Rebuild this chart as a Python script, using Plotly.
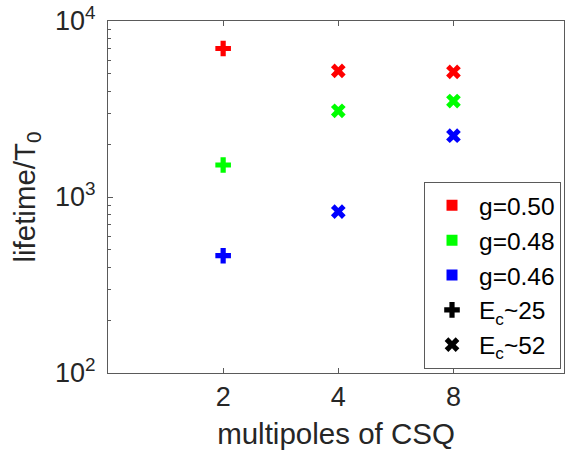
import plotly.graph_objects as go

# Multipole orders of the CSQ (categorical x axis)
multipoles = ["2", "4", "8"]

# Lifetime / T0 for E_c ~ 25 (only the 2-pole case)
ec25_multipoles = ["2"]
g050_ec25 = [6980]
g048_ec25 = [1520]
g046_ec25 = [464]

# Lifetime / T0 for E_c ~ 52 (4- and 8-pole cases)
ec52_multipoles = ["4", "8"]
g050_ec52 = [5210, 5140]
g048_ec52 = [3090, 3510]
g046_ec52 = [826, 2229]

g_labels = ["g=0.50", "g=0.48", "g=0.46"]
g_colors = ["#ff0000", "#00ff00", "#0000ff"]
ec_labels = ["E<sub>c</sub>~25", "E<sub>c</sub>~52"]

y_tickvals = [100, 1000, 10000]
y_ticktext = ["10<sup>2</sup>", "10<sup>3</sup>", "10<sup>4</sup>"]

pos = {m: i + 1 for i, m in enumerate(multipoles)}

FONT = "Liberation Sans, Arial, Helvetica, sans-serif"
TXT = "#262626"
AX = "#5a5a5a"

fig = go.Figure()

ec25_sets = [g050_ec25, g048_ec25, g046_ec25]
ec52_sets = [g050_ec52, g048_ec52, g046_ec52]

for vals, col in zip(ec25_sets, g_colors):
    fig.add_trace(go.Scatter(
        x=[pos[m] for m in ec25_multipoles], y=vals, mode="markers",
        marker=dict(symbol="cross", size=13, color=col, line=dict(width=0)),
        showlegend=False, hoverinfo="x+y"))

for vals, col in zip(ec52_sets, g_colors):
    fig.add_trace(go.Scatter(
        x=[pos[m] for m in ec52_multipoles], y=vals, mode="markers",
        marker=dict(symbol="x", size=13, color=col, line=dict(width=0)),
        showlegend=False, hoverinfo="x+y"))

# Legend-only entries: colour squares for g, black symbols for E_c
for lab, col in zip(g_labels, g_colors):
    fig.add_trace(go.Scatter(
        x=[None], y=[None], mode="markers", name=lab,
        marker=dict(symbol="square", size=11, color=col, line=dict(width=0))))
for lab, sym in zip(ec_labels, ["cross", "x"]):
    fig.add_trace(go.Scatter(
        x=[None], y=[None], mode="markers", name=lab,
        marker=dict(symbol=sym, size=13, color="black", line=dict(width=0))))

fig.update_layout(
    width=565, height=450,
    margin=dict(l=108, r=1, t=21, b=76.5),
    paper_bgcolor="white", plot_bgcolor="white",
    font=dict(family=FONT, color=TXT, size=27),
    legend=dict(
        x=0.693, y=0.543, xanchor="left", yanchor="top",
        bgcolor="white", bordercolor=AX, borderwidth=1,
        font=dict(size=24.5, family=FONT, color="black"),
        itemwidth=44, tracegroupgap=0),
    xaxis=dict(
        range=[0, 3.96], tickvals=[1, 2, 3], ticktext=multipoles,
        ticks="inside", ticklen=5, tickcolor=AX,
        showline=True, linecolor=AX, linewidth=1, mirror="ticks",
        showgrid=False, zeroline=False,
        tickfont=dict(size=27, color=TXT),
        title=dict(text="multipoles of CSQ", font=dict(size=29.5, color=TXT), standoff=12)),
    yaxis=dict(
        type="log", range=[2, 4], tickvals=y_tickvals, ticktext=y_ticktext,
        ticks="inside", ticklen=5, tickcolor=AX,
        minor=dict(ticks="inside", ticklen=3, tickcolor=AX, dtick="D1", showgrid=False),
        showline=True, linecolor=AX, linewidth=1, mirror=True,
        showgrid=False, zeroline=False, ticklabelstandoff=6,
        tickfont=dict(size=27, color=TXT),
        title=dict(text="lifetime/T<sub>0</sub>", font=dict(size=29.5, color=TXT), standoff=10)),
)

fig.write_html("out.html")
